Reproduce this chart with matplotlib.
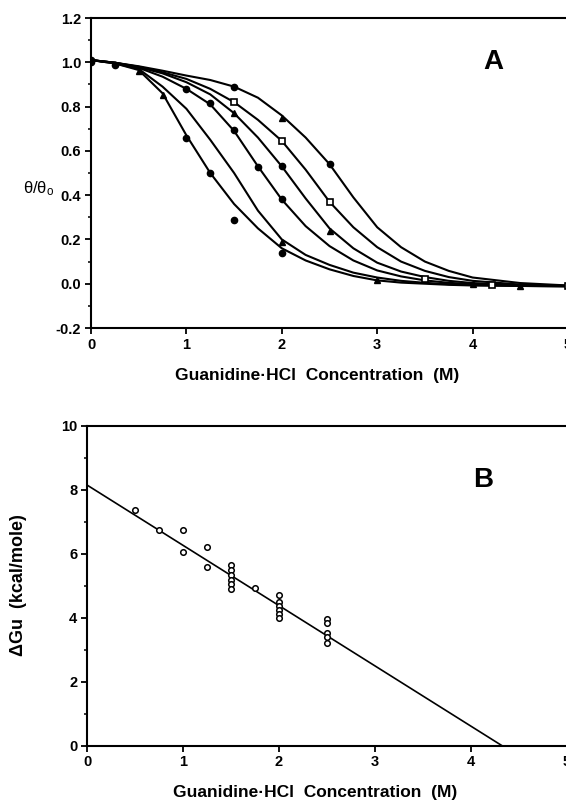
import numpy as np
import matplotlib.pyplot as plt

plt.rcParams['font.family'] = ['Liberation Sans', 'DejaVu Sans']
plt.rcParams['font.weight'] = 'bold'
plt.rcParams['axes.unicode_minus'] = False

# --- panel A: fitted unfolding curves on a common grid ---
grid = [0, 0.25, 0.5, 0.75, 1.0, 1.25, 1.5, 1.75, 2.0, 2.25, 2.5, 2.75,
        3.0, 3.25, 3.5, 3.75, 4.0, 4.5, 5.0]
curve1 = [1.01, 0.995, 0.965, 0.86, 0.67, 0.50, 0.36, 0.25, 0.16, 0.105, 0.065,
          0.035, 0.015, 0.005, 0.0, -0.005, -0.008, -0.01, -0.012]
curve2 = [1.01, 0.995, 0.97, 0.89, 0.79, 0.65, 0.50, 0.33, 0.20, 0.13, 0.085,
          0.05, 0.028, 0.013, 0.004, -0.002, -0.006, -0.01, -0.012]
curve3 = [1.01, 0.998, 0.975, 0.935, 0.88, 0.81, 0.69, 0.53, 0.38, 0.26, 0.17,
          0.105, 0.06, 0.033, 0.015, 0.004, -0.002, -0.008, -0.01]
curve4 = [1.01, 0.998, 0.978, 0.95, 0.91, 0.855, 0.77, 0.66, 0.53, 0.385, 0.25,
          0.16, 0.095, 0.055, 0.03, 0.013, 0.003, -0.006, -0.01]
curve5 = [1.01, 0.998, 0.98, 0.955, 0.925, 0.88, 0.82, 0.74, 0.645, 0.515, 0.37,
          0.255, 0.165, 0.10, 0.058, 0.03, 0.013, -0.004, -0.01]
curve6 = [1.01, 0.998, 0.982, 0.962, 0.94, 0.92, 0.89, 0.84, 0.76, 0.66, 0.54,
          0.39, 0.255, 0.165, 0.10, 0.058, 0.028, 0.003, -0.008]
curves = [curve1, curve2, curve3, curve4, curve5, curve6]

# measured points
circ_x = [0, 0, 0.25, 1.0, 1.25, 1.5, 2.0, 1.0, 1.25, 1.5, 1.75, 2.0, 1.5, 2.0, 2.5]
circ_y = [1.01, 1.0, 0.99, 0.657, 0.50, 0.29, 0.137, 0.879, 0.818, 0.694, 0.526,
          0.383, 0.887, 0.532, 0.54]
tri_x = [0.5, 0.75, 2.0, 1.5, 2.5, 2.0, 3.0, 4.0, 4.5]
tri_y = [0.962, 0.852, 0.187, 0.77, 0.24, 0.747, 0.015, -0.003, -0.01]
sq_x = [1.5, 2.0, 2.5, 3.5, 4.2, 5.0]
sq_y = [0.822, 0.646, 0.37, 0.02, -0.005, -0.01]

# --- panel B: stability vs denaturant ---
dg_x = [0.5, 0.75, 1.0, 1.0, 1.25, 1.25,
        1.5, 1.5, 1.5, 1.5, 1.5, 1.5, 1.75,
        2.0, 2.0, 2.0, 2.0, 2.0, 2.0,
        2.5, 2.5, 2.5, 2.5, 2.5]
dg_y = [7.36, 6.73, 6.73, 6.04, 6.19, 5.59,
        5.64, 5.48, 5.33, 5.17, 5.05, 4.89, 4.93,
        4.70, 4.49, 4.36, 4.23, 4.10, 3.97,
        3.95, 3.82, 3.52, 3.38, 3.20]
fit_x = [0, 4.32]
fit_y = [8.14, 0]

W, H = 566, 802
fig = plt.figure(figsize=(W / 100, H / 100), dpi=100)
axA = fig.add_axes([91 / W, 1 - 328 / H, 477 / W, 310 / H])
axB = fig.add_axes([87 / W, 1 - 745.5 / H, 480 / W, 320 / H])

for c in curves:
    axA.plot(grid, c, color='black', lw=1.5)
axA.plot(circ_x, circ_y, 'o', color='black', ms=4.5)
axA.plot(tri_x, tri_y, '^', color='black', ms=5)
axA.plot(sq_x, sq_y, 's', mfc='white', mec='black', mew=1.2, ms=4.5)

axA.set_xlim(0, 5)
axA.set_ylim(-0.2, 1.2)
axA.set_xticks(range(6))
axA.set_yticks(np.round(np.arange(-0.2, 1.21, 0.2), 1))
axA.set_yticks(np.round(np.arange(-0.1, 1.2, 0.2), 1), minor=True)
axA.yaxis.set_major_formatter(plt.FormatStrFormatter('%.1f'))
axA.text(0.843, 0.858, 'A', transform=axA.transAxes, fontsize=20,
         fontweight='bold', ha='center', va='center')
axA.text(-0.11, 0.45, r'$\mathregular{\theta/\theta_o}$', transform=axA.transAxes,
         fontsize=12, fontweight='normal', ha='center', va='center')

axB.plot(fit_x, fit_y, color='black', lw=1.2)
axB.plot(dg_x, dg_y, 'o', mfc='white', mec='black', mew=1.1, ms=4)
axB.set_xlim(0, 5)
axB.set_ylim(0, 10)
axB.set_xticks(range(6))
axB.set_yticks(range(0, 11, 2))
axB.set_yticks(range(1, 10, 2), minor=True)
axB.text(0.825, 0.83, 'B', transform=axB.transAxes, fontsize=20,
         fontweight='bold', ha='center', va='center')
axB.set_ylabel('ΔGu  (kcal/mole)', fontsize=13, fontweight='bold')
axB.yaxis.set_label_coords(-0.125, 0.5)

for ax in (axA, axB):
    ax.spines['right'].set_visible(False)
    for s in ('left', 'bottom', 'top'):
        ax.spines[s].set_linewidth(1.5)
    ax.tick_params(which='major', direction='out', length=4, width=1.3,
                   labelsize=10.5, pad=3)
    ax.tick_params(which='minor', direction='out', length=2.5, width=1.1)
    ax.tick_params(axis='x', which='minor', bottom=False)
    ax.set_xlabel('Guanidine·HCl  Concentration  (M)', fontsize=12.5, fontweight='bold')
axA.xaxis.set_label_coords(0.475, -0.13)
axB.xaxis.set_label_coords(0.475, -0.125)

fig.savefig('out.png', dpi=100)
